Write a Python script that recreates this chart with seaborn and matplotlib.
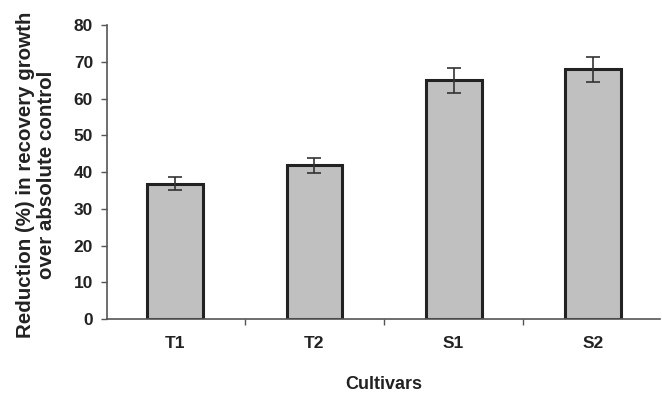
import pandas as pd
import matplotlib
matplotlib.use("Agg")
import matplotlib.pyplot as plt
import seaborn as sns

cultivars = ["T1", "T2", "S1", "S2"]
reduction = [36.8, 41.8, 65.0, 68.0]
errors = [1.8, 2.1, 3.4, 3.4]

df = pd.DataFrame({"Cultivars": cultivars, "Reduction": reduction})

sns.set_style("white")
plt.rcParams["font.family"] = ["Liberation Sans", "DejaVu Sans"]

fig = plt.figure(figsize=(6.62, 3.98), dpi=100)
ax = fig.add_axes([0.1616, 0.1985, 0.835, 0.7385])

sns.barplot(data=df, x="Cultivars", y="Reduction", color="#c0c0c0",
            edgecolor="#222222", linewidth=2.2, width=0.4, saturation=1,
            errorbar=None, ax=ax)
ax.errorbar(range(len(cultivars)), reduction, yerr=errors, fmt="none",
            ecolor="#333333", elinewidth=1.2, capsize=5, capthick=1.2)

ax.set_xlim(-0.49, 3.48)
ax.set_ylim(0, 80)
ax.set_yticks(range(0, 81, 10))
ax.set_xticks(range(len(cultivars)))
ax.set_xticklabels(cultivars)
ax.set_xticks([0.5, 1.5, 2.5], minor=True)

sns.despine(ax=ax)
for s in ["left", "bottom"]:
    ax.spines[s].set_color("#555555")
    ax.spines[s].set_linewidth(1.2)

ax.tick_params(axis="y", which="major", direction="out", length=4, width=1,
               color="#555555", labelsize=12.5, pad=6, left=True)
ax.tick_params(axis="x", which="major", length=0, labelsize=12.5, pad=12)
ax.tick_params(axis="x", which="minor", direction="out", length=4, width=1,
               color="#555555", bottom=True)
for lbl in ax.get_xticklabels() + ax.get_yticklabels():
    lbl.set_fontweight("bold")
    lbl.set_color("#222222")

ax.set_xlabel("Cultivars", fontsize=13, fontweight="bold", color="#222222",
              labelpad=18)
ax.set_ylabel("Reduction (%) in recovery growth\nover absolute control",
              fontsize=14.8, fontweight="bold", color="#222222",
              linespacing=1.15)
ax.yaxis.set_label_coords(-0.092, 0.49)

fig.savefig("out.png", dpi=100)
